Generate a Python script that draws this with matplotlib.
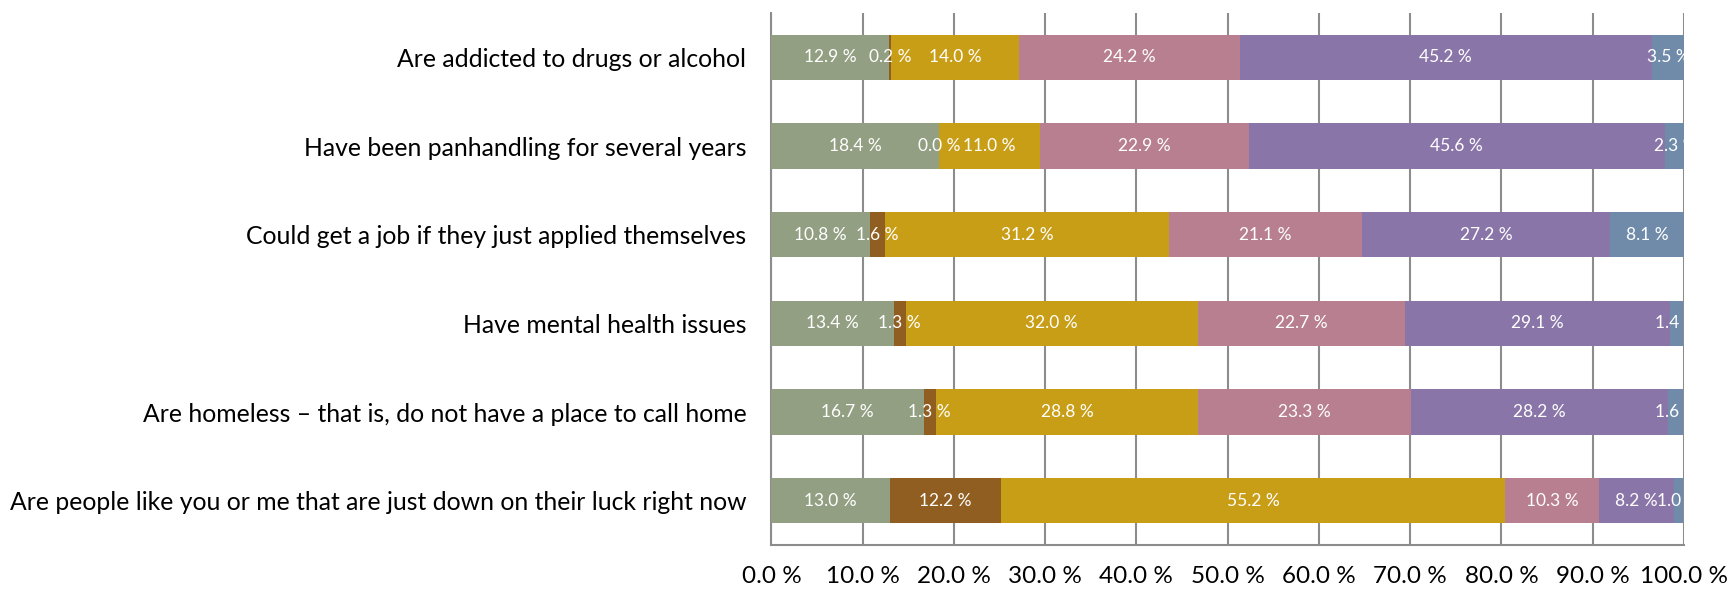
import numpy as np
import matplotlib
matplotlib.use('Agg')
import matplotlib.pyplot as plt

# Categorias (de cima para baixo)
categories = [
    "Are addicted to drugs or alcohol",
    "Have been panhandling for several years",
    "Could get a job if they just applied themselves",
    "Have mental health issues",
    "Are homeless \u2013 that is, do not have a place to call home",
    "Are people like you or me that are just down on their luck right now",
]

# Valores de cada serie (%) na mesma ordem das categorias
s1 = [12.9, 18.4, 10.8, 13.4, 16.7, 13.0]
s2 = [0.2, 0.0, 1.6, 1.3, 1.3, 12.2]
s3 = [14.0, 11.0, 31.2, 32.0, 28.8, 55.2]
s4 = [24.2, 22.9, 21.1, 22.7, 23.3, 10.3]
s5 = [45.2, 45.6, 27.2, 29.1, 28.2, 8.2]
s6 = [3.5, 2.3, 8.1, 1.4, 1.6, 1.0]

x_ticks = [0, 10, 20, 30, 40, 50, 60, 70, 80, 90, 100]

series = [s1, s2, s3, s4, s5, s6]
colors = ['#939f82', '#8f5e20', '#c99e17', '#b77f8f', '#8a75a9', '#6f8ba9']

plt.rcParams['font.family'] = ['Lato', 'DejaVu Sans']

fig = plt.figure(figsize=(17.3, 5.89), dpi=100)
ax = fig.add_axes([0.4459, 0.0747, 0.5275, 0.903])

y = np.arange(len(categories))
left = np.zeros(len(categories))

for vals, col in zip(series, colors):
    vals = np.array(vals)
    ax.barh(y, vals, left=left, height=0.51, color=col, zorder=3)
    # Rotulos brancos no centro de cada segmento
    for yi, (l, v) in enumerate(zip(left, vals)):
        ax.text(l + v / 2, yi, f"{v:.1f} %", ha='center', va='center',
                color='white', fontsize=12.5, zorder=4, clip_on=True)
    left = left + vals

ax.set_xlim(0, 100)
ax.set_ylim(len(categories) - 0.5, -0.5)
ax.set_yticks(y)
ax.set_yticklabels(categories, fontsize=17.8)
ax.set_xticks(x_ticks)
ax.set_xticklabels([f"{t:.1f} %" for t in x_ticks], fontsize=17.5)
ax.tick_params(axis='both', length=0)
ax.tick_params(axis='y', pad=18)
ax.tick_params(axis='x', pad=15)

ax.grid(axis='x', color='#8c8c8c', linewidth=1.5, zorder=0)
for side in ['top', 'right']:
    ax.spines[side].set_visible(False)
for side in ['left', 'bottom']:
    ax.spines[side].set_color('#8c8c8c')
    ax.spines[side].set_linewidth(1.5)

fig.savefig('out.png', dpi=100)
plt.close(fig)
